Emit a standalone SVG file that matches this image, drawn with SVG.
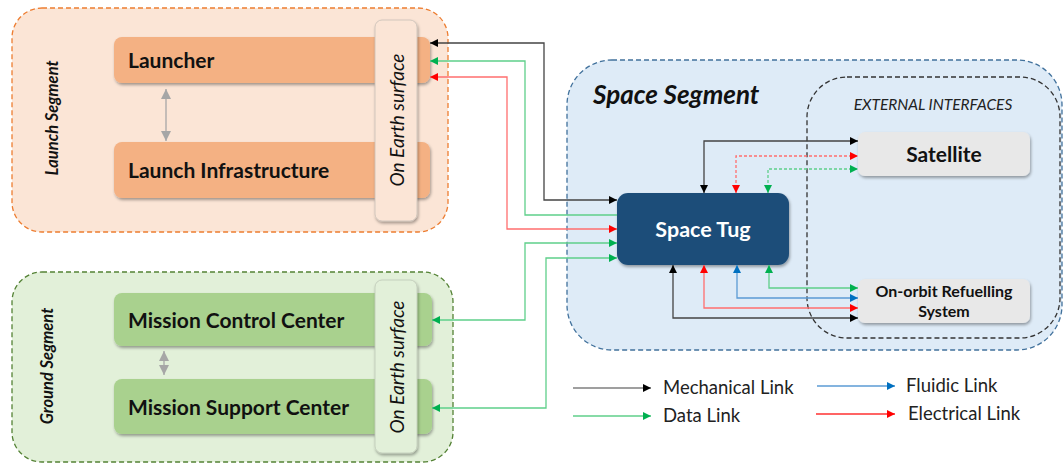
<svg xmlns="http://www.w3.org/2000/svg" width="1064" height="463" viewBox="0 0 1064 463">
<style>
text{font-family:Lato,"Open Sans","Liberation Sans",sans-serif;}
.lbl{font-size:21px;font-weight:bold;fill:#111;}
.earth{font-size:19px;font-style:italic;fill:#111;}
.seg{font-size:16.5px;font-style:italic;font-weight:bold;fill:#111;}
.leg{font-size:18.5px;fill:#222;}
.c{fill:none;stroke-width:1.3;}
.k{stroke:#444;marker-start:url(#ak);marker-end:url(#ak);}
.g{stroke:#5fcf8a;marker-start:url(#ag);marker-end:url(#ag);}
.r{stroke:#ff6f6f;marker-start:url(#ar);marker-end:url(#ar);}
.b{stroke:#5b9bd5;marker-start:url(#ab);marker-end:url(#ab);}
.dot{stroke-dasharray:3 2;}
</style>
<defs>
<filter id="sh" x="-10%" y="-10%" width="130%" height="140%">
<feDropShadow dx="1" dy="2" stdDeviation="1.5" flood-color="#000" flood-opacity="0.35"/>
</filter>
<marker id="ak" viewBox="0 0 10 10" refX="10" refY="5" markerWidth="9" markerHeight="8" markerUnits="userSpaceOnUse" orient="auto-start-reverse"><path d="M0,0 L10,5 L0,10 z" fill="#000"/></marker>
<marker id="ag" viewBox="0 0 10 10" refX="10" refY="5" markerWidth="9" markerHeight="8" markerUnits="userSpaceOnUse" orient="auto-start-reverse"><path d="M0,0 L10,5 L0,10 z" fill="#00b050"/></marker>
<marker id="ar" viewBox="0 0 10 10" refX="10" refY="5" markerWidth="9" markerHeight="8" markerUnits="userSpaceOnUse" orient="auto-start-reverse"><path d="M0,0 L10,5 L0,10 z" fill="#ff0000"/></marker>
<marker id="ab" viewBox="0 0 10 10" refX="10" refY="5" markerWidth="9" markerHeight="8" markerUnits="userSpaceOnUse" orient="auto-start-reverse"><path d="M0,0 L10,5 L0,10 z" fill="#0070c0"/></marker>
<marker id="agr" viewBox="0 0 10 10" refX="10" refY="5" markerWidth="10" markerHeight="10" markerUnits="userSpaceOnUse" orient="auto-start-reverse"><path d="M0,0 L10,5 L0,10 z" fill="#a6a6a6"/></marker>
</defs>

<!-- Containers -->
<g id="launch-segment">
<rect x="12" y="8" width="436" height="224" rx="30" fill="#fbe5d6" stroke="#ed7d31" stroke-width="1.3" stroke-dasharray="5 3"/>
<text class="seg" transform="translate(58,118) rotate(-90)" text-anchor="middle">Launch Segment</text>
</g>
<g id="ground-segment">
<rect x="12" y="272" width="441" height="190" rx="30" fill="#e2f0d9" stroke="#548235" stroke-width="1.3" stroke-dasharray="5 3"/>
<text class="seg" transform="translate(53,366) rotate(-90)" text-anchor="middle">Ground Segment</text>
</g>
<g id="space-segment">
<rect x="567" y="60" width="495" height="290" rx="45" fill="#deebf7" stroke="#41719c" stroke-width="1.3" stroke-dasharray="5 3"/>
<text x="593" y="104" font-size="26" font-style="italic" font-weight="bold" fill="#111">Space Segment</text>
</g>
<g id="external-interfaces">
<rect x="807" y="77" width="253" height="261" rx="40" fill="none" stroke="#333" stroke-width="1.3" stroke-dasharray="5 3"/>
<text x="933" y="110" font-size="15.5" font-style="italic" fill="#222" text-anchor="middle">EXTERNAL INTERFACES</text>
</g>

<!-- Nodes -->
<g id="launcher">
<rect x="114" y="37" width="316" height="46" rx="8" fill="#f4b183" filter="url(#sh)"/>
<text class="lbl" x="128" y="68">Launcher</text>
</g>
<g id="launch-infrastructure">
<rect x="114" y="142" width="316" height="56" rx="8" fill="#f4b183" filter="url(#sh)"/>
<text class="lbl" x="128" y="178">Launch Infrastructure</text>
</g>
<g id="launch-earth-surface">
<rect x="375" y="20" width="42" height="201" rx="7" fill="#fbe5d6" stroke="#c9c0b8" stroke-width="0.8" filter="url(#sh)"/>
<text class="earth" transform="translate(404,120) rotate(-90)" text-anchor="middle">On Earth surface</text>
</g>
<g id="mission-control-center">
<rect x="114" y="293" width="318" height="53" rx="8" fill="#a9d18e" filter="url(#sh)"/>
<text class="lbl" x="128" y="328">Mission Control Center</text>
</g>
<g id="mission-support-center">
<rect x="114" y="379" width="318" height="55" rx="8" fill="#a9d18e" filter="url(#sh)"/>
<text class="lbl" x="128" y="415">Mission Support Center</text>
</g>
<g id="ground-earth-surface">
<rect x="375" y="280" width="42" height="173" rx="7" fill="#e2f0d9" stroke="#bfc9b8" stroke-width="0.8" filter="url(#sh)"/>
<text class="earth" transform="translate(404,367) rotate(-90)" text-anchor="middle">On Earth surface</text>
</g>
<g id="space-tug">
<rect x="617" y="193" width="172" height="72" rx="11" fill="#1f4e79" filter="url(#sh)"/>
<text x="703" y="237" font-size="21.5" font-weight="bold" fill="#fff" text-anchor="middle">Space Tug</text>
</g>
<g id="satellite">
<rect x="858" y="132" width="172" height="44" rx="7" fill="#e8e8e8" filter="url(#sh)"/>
<text class="lbl" x="944" y="162" text-anchor="middle">Satellite</text>
</g>
<g id="refuelling-system">
<rect x="858" y="279" width="172" height="44" rx="7" fill="#e8e8e8" filter="url(#sh)"/>
<text x="944" y="297" font-size="16" font-weight="bold" fill="#111" text-anchor="middle">On-orbit Refuelling</text>
<text x="944" y="317" font-size="16" font-weight="bold" fill="#111" text-anchor="middle">System</text>
</g>

<!-- Connectors -->
<g id="connectors">
<path class="c" d="M166 89 V141" stroke="#a6a6a6" stroke-width="3" marker-start="url(#agr)" marker-end="url(#agr)"/>
<path class="c" d="M164 351 V375" stroke="#a6a6a6" stroke-width="3" marker-start="url(#agr)" marker-end="url(#agr)"/>

<path class="c k" d="M430 43 H544 V200 H617"/>
<path class="c g" d="M430 61 H525 V215 H617" style="marker-end:none"/>
<path class="c r" d="M430 77 H507 V229 H617"/>
<path class="c g" d="M432 320 H525 V243 H617"/>
<path class="c g" d="M432 408 H546 V258 H617"/>

<path class="c k" d="M704 193 V141 H858"/>
<path class="c r dot" d="M736 193 V156 H858"/>
<path class="c g dot" d="M768 193 V169 H858"/>

<path class="c k" d="M673 265 V318 H858"/>
<path class="c r" d="M704 265 V308 H858"/>
<path class="c b" d="M737 265 V298 H858"/>
<path class="c g" d="M769 265 V288 H858"/>
</g>

<!-- Legend -->
<g id="legend">
<path class="c" d="M573 388 H651" stroke="#7f7f7f" marker-end="url(#ak)"/>
<text class="leg" x="663" y="394">Mechanical Link</text>
<path class="c" d="M573 416 H651" stroke="#5fcf8a" marker-end="url(#ag)"/>
<text class="leg" x="663" y="422">Data Link</text>
<path class="c" d="M817 386 H895" stroke="#5b9bd5" marker-end="url(#ab)"/>
<text class="leg" x="906" y="392">Fluidic Link</text>
<path class="c" d="M816 414 H895" stroke="#ff3030" marker-end="url(#ar)"/>
<text class="leg" x="908" y="420">Electrical Link</text>
</g>
</svg>
